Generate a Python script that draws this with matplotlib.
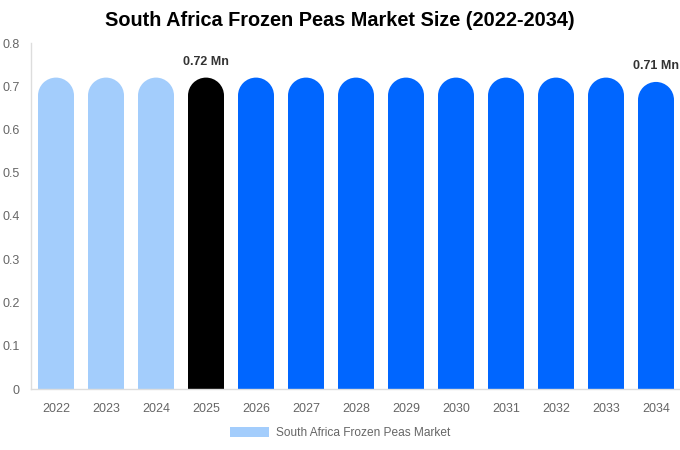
import matplotlib
matplotlib.use("Agg")
import matplotlib.pyplot as plt
from matplotlib.patches import Rectangle, Ellipse, Patch

years = ["2022", "2023", "2024", "2025", "2026", "2027", "2028", "2029", "2030", "2031", "2032", "2033", "2034"]
values = [0.72, 0.72, 0.72, 0.72, 0.72, 0.72, 0.72, 0.72, 0.72, 0.72, 0.72, 0.72, 0.71]
labels = {3: "0.72 Mn", 12: "0.71 Mn"}
yticks = [0, 0.1, 0.2, 0.3, 0.4, 0.5, 0.6, 0.7, 0.8]

light = "#a3cdfc"
blue = "#0066ff"
black = "#000000"
colors = [light] * 3 + [black] + [blue] * 9

plt.rcParams['font.family'] = ['Liberation Sans', 'DejaVu Sans']

W, H = 680, 450
fig = plt.figure(figsize=(W / 100, H / 100), dpi=100)
left, right, top, bottom = 31, 681, 43, 389
ax = fig.add_axes([left / W, (H - bottom) / H, (right - left) / W, (bottom - top) / H])
ax.set_xlim(-0.5, len(years) - 0.5)
ax.set_ylim(0, 0.8)

bw = 0.72
px_per_y = (bottom - top) / 0.8
px_per_x = (right - left) / len(years)
r_px = bw * px_per_x / 2
ry = r_px / px_per_y

for i, (v, c) in enumerate(zip(values, colors)):
    ax.add_patch(Rectangle((i - bw / 2, 0), bw, v - ry, facecolor=c, edgecolor='none', linewidth=0))
    ax.add_patch(Ellipse((i, v - ry), bw, 2 * ry, facecolor=c, edgecolor='none', linewidth=0))

for i, t in labels.items():
    ax.text(i, values[i] + 16 / px_per_y, t, ha='center', va='center', fontsize=9, fontweight='bold', color='#333333')

ax.set_xticks(range(len(years)))
ax.set_xticklabels(years)
ax.set_yticks(yticks)
ax.set_yticklabels([f"{t:g}" for t in yticks])
ax.tick_params(axis='both', length=0, labelsize=9, colors='#666666')
ax.tick_params(axis='x', pad=10)
ax.tick_params(axis='y', pad=8)
for s in ['top', 'right']:
    ax.spines[s].set_visible(False)
for s in ['left', 'bottom']:
    ax.spines[s].set_color('#dddddd')
    ax.spines[s].set_linewidth(1)

fig.text(0.5, 1 - 21 / H, "South Africa Frozen Peas Market Size (2022-2034)", ha='center', va='center',
         fontsize=14.3, fontweight='bold', color='#000000')

leg = fig.legend(handles=[Patch(facecolor=light, edgecolor='none', label="South Africa Frozen Peas Market")],
                 loc='center', bbox_to_anchor=(0.5, 1 - 433 / H), frameon=False, fontsize=8.6,
                 handlelength=3.3, handleheight=0.95, handletextpad=0.55)
for t in leg.get_texts():
    t.set_color('#666666')

fig.savefig("out.png", dpi=100)
